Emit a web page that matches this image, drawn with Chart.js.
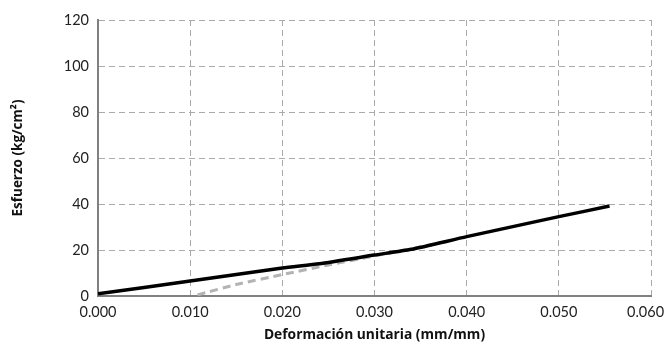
<!DOCTYPE html>
<html>
<head>
<meta charset="utf-8">
<script src="https://cdn.jsdelivr.net/npm/chart.js@4"></script>
<style>
  body { margin: 0; background: #fff; }
  #wrap { width: 666px; height: 347px; }
</style>
</head>
<body>
<div id="wrap"><canvas id="chart"></canvas></div>
<script>
// curva principal (negra)
const strainMain = [0, 0.010, 0.020, 0.024, 0.030, 0.034, 0.040, 0.050, 0.0555];
const stressMain = [1, 6.5, 12.2, 14.0, 17.8, 20.3, 25.8, 34.5, 39.1];
// curva corregida (gris, discontinua)
const strainAlt = [0.0108, 0.015, 0.020, 0.025, 0.030, 0.034, 0.038];
const stressAlt = [0.5, 5.0, 9.3, 13.5, 17.4, 20.5, 23.8];

const xTicks = [0, 0.01, 0.02, 0.03, 0.04, 0.05, 0.06];
const yTicks = [0, 20, 40, 60, 80, 100, 120];

const toPoints = (xs, ys) => xs.map((x, i) => ({ x: x, y: ys[i] }));
const font = "Lato, 'Open Sans', sans-serif";
const titleFont = "'Open Sans', sans-serif";

const ctx = document.getElementById("chart").getContext("2d");
new Chart(ctx, {
  type: "scatter",
  data: {
    datasets: [
      {
        data: toPoints(strainMain, stressMain),
        showLine: true,
        borderColor: "#000",
        borderWidth: 3.5,
        pointRadius: 0,
        tension: 0.2,
      },
      {
        data: toPoints(strainAlt, stressAlt),
        showLine: true,
        borderColor: "#b3b3b3",
        borderWidth: 3,
        borderDash: [8, 5],
        pointRadius: 0,
        tension: 0.2,
      },
    ],
  },
  options: {
    responsive: true,
    maintainAspectRatio: false,
    animation: false,
    layout: { padding: { top: 20, right: 15, left: 0, bottom: 0 } },
    plugins: { legend: { display: false }, tooltip: { enabled: false } },
    scales: {
      x: {
        type: "linear",
        min: 0,
        max: 0.06,
        afterBuildTicks: (axis) => { axis.ticks = xTicks.map((v) => ({ value: v })); },
        afterFit: (axis) => {
          axis.height = 51;
          axis.paddingLeft = 0;
          axis.paddingRight = 0;
        },
        ticks: {
          color: "#222",
          font: { family: font, size: 14.5 },
          padding: 8,
          maxRotation: 0,
          // the last label is pushed left so it stays inside the page
          callback: (v) => (v === 0.06 ? v.toFixed(3) + "\u2003" : v.toFixed(3)),
        },
        grid: { color: "#aaa", lineWidth: 1, drawTicks: false },
        border: { color: "#808080", width: 2, dash: [6, 4] },
        title: {
          display: true,
          text: "Deformación unitaria (mm/mm)",
          color: "#111",
          font: { family: titleFont, size: 13.8, weight: "bold" },
          padding: { top: 3 },
        },
      },
      y: {
        min: 0,
        max: 120,
        afterBuildTicks: (axis) => { axis.ticks = yTicks.map((v) => ({ value: v })); },
        afterFit: (axis) => { axis.width = 98; },
        ticks: {
          color: "#222",
          font: { family: font, size: 14.5 },
          padding: 9,
        },
        grid: { color: "#aaa", lineWidth: 1, drawTicks: false },
        border: { color: "#808080", width: 2, dash: [6, 4] },
        title: {
          display: true,
          text: "Esfuerzo (kg/cm²)",
          color: "#111",
          font: { family: titleFont, size: 13.5, weight: "bold" },
          padding: { top: 10, bottom: 20 },
        },
      },
    },
  },
});
</script>
</body>
</html>
